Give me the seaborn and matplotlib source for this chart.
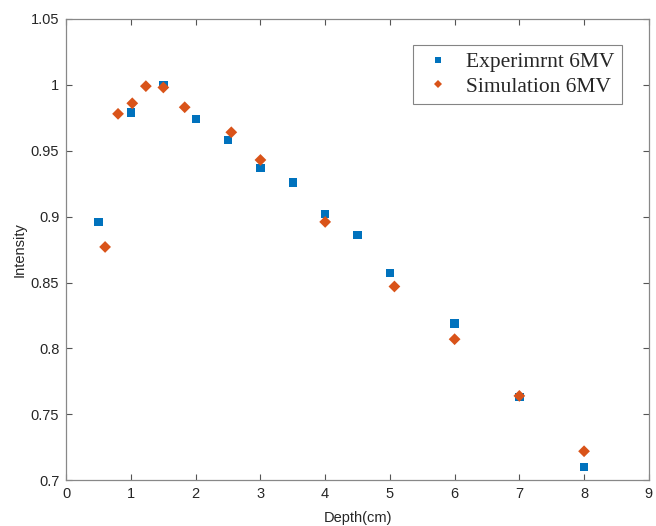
import matplotlib
matplotlib.use("Agg")
import matplotlib.pyplot as plt
import seaborn as sns
import pandas as pd

exp_depth = [0.5, 1.0, 1.5, 2.0, 2.5, 3.0, 3.5, 4.0, 4.5, 5.0, 6.0, 7.0, 8.0]
exp_intensity = [0.896, 0.979, 1.000, 0.974, 0.958, 0.937, 0.926, 0.902, 0.886, 0.857, 0.819, 0.763, 0.710]
sim_depth = [0.6, 0.8, 1.02, 1.23, 1.5, 1.83, 2.55, 3.0, 4.0, 5.07, 6.0, 7.0, 8.0]
sim_intensity = [0.877, 0.978, 0.986, 0.999, 0.998, 0.983, 0.964, 0.943, 0.896, 0.847, 0.807, 0.764, 0.722]
series_names = ["Experimrnt 6MV", "Simulation 6MV"]
x_ticks = [0, 1, 2, 3, 4, 5, 6, 7, 8, 9]
y_ticks = [0.7, 0.75, 0.8, 0.85, 0.9, 0.95, 1.0, 1.05]
y_tick_labels = ["0.7", "0.75", "0.8", "0.85", "0.9", "0.95", "1", "1.05"]

df = pd.concat([
    pd.DataFrame({"Depth": exp_depth, "Intensity": exp_intensity, "Series": series_names[0]}),
    pd.DataFrame({"Depth": sim_depth, "Intensity": sim_intensity, "Series": series_names[1]}),
])

sns.set_style("white")
plt.rcParams["font.family"] = ["Liberation Sans", "DejaVu Sans"]

fig = plt.figure(figsize=(6.56, 5.26), dpi=100)
ax = fig.add_axes([0.101, 0.087, 0.888, 0.877])

sns.scatterplot(data=df, x="Depth", y="Intensity", hue="Series", style="Series",
                palette={series_names[0]: "#0072BD", series_names[1]: "#D95319"},
                markers={series_names[0]: "s", series_names[1]: "D"},
                s=36, linewidth=0, ax=ax, legend=True)

ax.set_xlim(0, 9)
ax.set_ylim(0.7, 1.05)
ax.set_xticks(x_ticks)
ax.set_yticks(y_ticks)
ax.set_yticklabels(y_tick_labels)
ax.set_xlabel("Depth(cm)", fontsize=10.5, color="#262626", labelpad=7)
ax.set_ylabel("Intensity", fontsize=10.5, color="#262626", labelpad=3)
ax.tick_params(axis="both", direction="in", length=4, width=0.8, color="#555555",
               labelsize=10.5, labelcolor="#262626", top=True, right=True,
               bottom=True, left=True)
ax.tick_params(axis="x", pad=5)
ax.tick_params(axis="y", pad=5)
for sp in ax.spines.values():
    sp.set_color("#888888")
    sp.set_linewidth(0.9)

handles, labels = ax.get_legend_handles_labels()
for h in handles:
    if hasattr(h, "set_markersize"):
        h.set_markersize(4.5)
    elif hasattr(h, "set_sizes"):
        h.set_sizes([22])
leg = ax.legend(handles, labels, loc="upper right", bbox_to_anchor=(0.954, 0.944),
                borderaxespad=0, frameon=True, fancybox=False, edgecolor="#666666",
                prop={"family": "Liberation Serif", "size": 15.5},
                handletextpad=0.5, borderpad=0.35, labelspacing=0.2,
                handlelength=1.6)
leg.get_frame().set_linewidth(0.8)

fig.savefig("out.png", dpi=100)
